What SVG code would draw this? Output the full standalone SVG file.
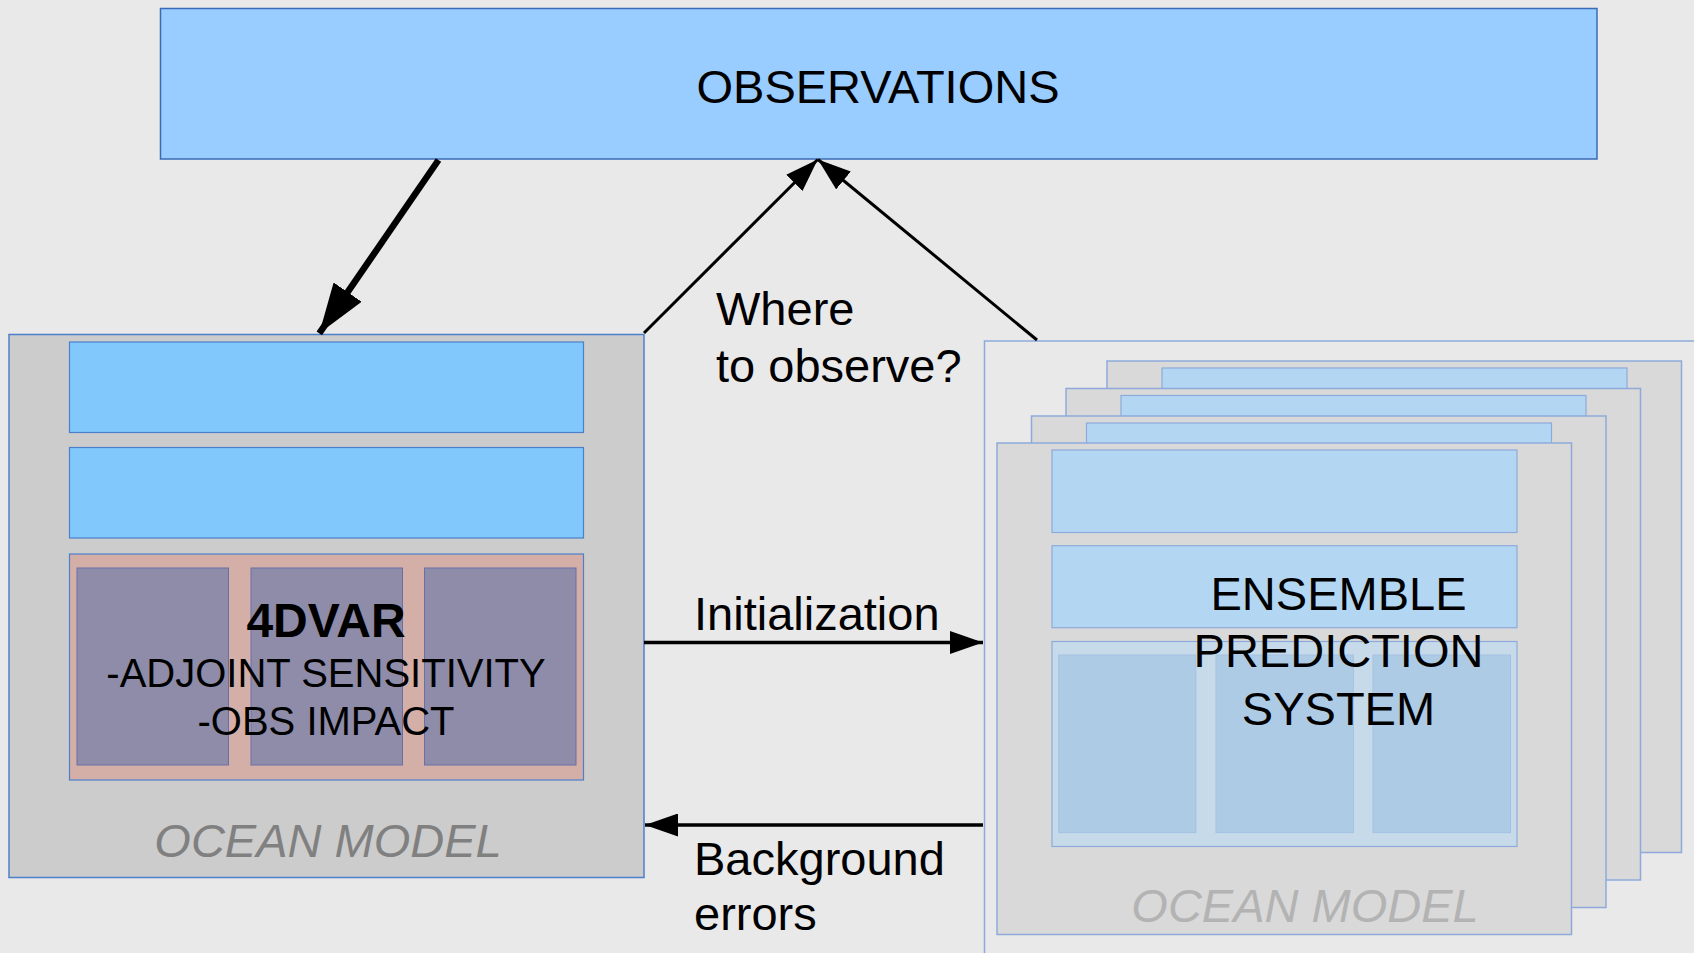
<svg xmlns="http://www.w3.org/2000/svg" xmlns:xlink="http://www.w3.org/1999/xlink" width="1694" height="953" viewBox="0 0 1694 953">
  <style>
    text { font-family: "Liberation Sans", Arial, sans-serif; fill: #000; }
    .lbl { font-size: 47px; }
    .mid { text-anchor: middle; }
    .model { font-size: 47px; font-style: italic; text-anchor: middle; }
    .obs { fill: #99ccff; stroke: #3b6bb6; stroke-width: 1.5; }
    .frame { fill: #cccccc; stroke: #4d7fcb; stroke-width: 1.5; }
    .layer { fill: #81c8fd; stroke: #4d7fcb; stroke-width: 1.2; }
    .core { fill: #d4afa7; stroke: #4d7fcb; stroke-width: 1.2; }
    .col { fill: #8e8ca9; stroke: #6b6fa8; stroke-width: 1; }
    .ens-frame { fill: #d9d9d9; stroke: #8eaadb; stroke-width: 1.5; }
    .ens-layer { fill: #b3d7f2; stroke: #8eaadb; stroke-width: 1.2; }
    .ens-core { fill: #c6dae9; stroke: #8eaadb; stroke-width: 1.2; }
    .ens-col { fill: #aecbe6; stroke: #a3c1e2; stroke-width: 1; }
    .conn { fill: none; stroke: #000; }
  </style>
  <defs>
    <marker id="head-thin" markerUnits="userSpaceOnUse" markerWidth="33" markerHeight="23" refX="33" refY="11.5" orient="auto" viewBox="0 0 33 23">
      <path d="M0,0 L33,11.5 L0,23 Z" fill="#000"/>
    </marker>
    <marker id="head-thick" markerUnits="userSpaceOnUse" markerWidth="50" markerHeight="34" refX="50" refY="17" orient="auto" viewBox="0 0 50 34">
      <path d="M0,0 L50,17 L0,34 Z" fill="#000"/>
    </marker>
    <!-- one ensemble member card, drawn at its own origin -->
    <g id="member">
      <rect class="ens-frame" x="0" y="0" width="574.5" height="491.5"/>
      <rect class="ens-layer" x="55" y="7" width="465" height="82.5"/>
      <rect class="ens-layer" x="55" y="102.7" width="465" height="82"/>
      <rect class="ens-core" x="55" y="198.5" width="465" height="205"/>
      <rect class="ens-col" x="61.8" y="212" width="137" height="177.6"/>
      <rect class="ens-col" x="219" y="212" width="137.4" height="177.6"/>
      <rect class="ens-col" x="376" y="212" width="137.5" height="177.6"/>
    </g>
  </defs>

  <rect x="0" y="0" width="1694" height="953" fill="#e9e9e9"/>

  <!-- observations bar -->
  <g id="observations">
    <rect class="obs" x="160.5" y="8.5" width="1436.5" height="150.5"/>
    <text class="lbl mid" x="878" y="102.5">OBSERVATIONS</text>
  </g>

  <!-- deterministic ocean model with 4DVAR -->
  <g id="ocean-model-4dvar">
    <rect class="frame" x="9" y="334.5" width="635" height="543"/>
    <rect class="layer" x="69.5" y="342" width="514" height="90.5"/>
    <rect class="layer" x="69.5" y="447.5" width="514" height="90.5"/>
    <rect class="core" x="69.5" y="554" width="514" height="226"/>
    <rect class="col" x="77" y="568" width="151.5" height="197"/>
    <rect class="col" x="251" y="568" width="151.5" height="197"/>
    <rect class="col" x="424.5" y="568" width="151.5" height="197"/>
    <text class="mid" x="326" y="637" style="font-size:48px;font-weight:bold">4DVAR</text>
    <text class="mid" x="326" y="687" style="font-size:40px">-ADJOINT SENSITIVITY</text>
    <text class="mid" x="326" y="735" style="font-size:40px">-OBS IMPACT</text>
    <text class="model" x="328" y="857" style="fill:#808080">OCEAN MODEL</text>
  </g>

  <!-- ensemble prediction system: stacked member cards -->
  <g id="ensemble">
    <rect x="984.5" y="341" width="760" height="700" fill="#e9e9e9" stroke="#8eaadb" stroke-width="1.5"/>
    <use xlink:href="#member" x="1107" y="361"/>
    <use xlink:href="#member" x="1066" y="388.5"/>
    <use xlink:href="#member" x="1031.5" y="416"/>
    <use xlink:href="#member" x="997" y="443"/>
    <text class="lbl mid" x="1338.5" y="610">ENSEMBLE</text>
    <text class="lbl mid" x="1338.5" y="667">PREDICTION</text>
    <text class="lbl mid" x="1338.5" y="724.5">SYSTEM</text>
    <text class="model" x="1305" y="922" style="fill:#b3b3b3">OCEAN MODEL</text>
  </g>

  <!-- connectors -->
  <g id="connectors">
    <path class="conn" d="M438.5,160 L319.3,333.3" stroke-width="6.5" marker-end="url(#head-thick)"/>
    <path class="conn" d="M644,333 L817.7,159.5" stroke-width="3" marker-end="url(#head-thin)"/>
    <path class="conn" d="M1037,340 L818,159.5" stroke-width="3" marker-end="url(#head-thin)"/>
    <path class="conn" d="M644,642.5 L983,642.5" stroke-width="3.3" marker-end="url(#head-thin)"/>
    <path class="conn" d="M983,825 L645,825" stroke-width="3.3" marker-end="url(#head-thin)"/>
  </g>

  <!-- connector labels -->
  <g id="labels">
    <text class="lbl" x="716" y="325">Where</text>
    <text class="lbl" x="716" y="382">to observe?</text>
    <text class="lbl" x="694" y="630">Initialization</text>
    <text class="lbl" x="694" y="875">Background</text>
    <text class="lbl" x="694" y="930">errors</text>
  </g>
</svg>
